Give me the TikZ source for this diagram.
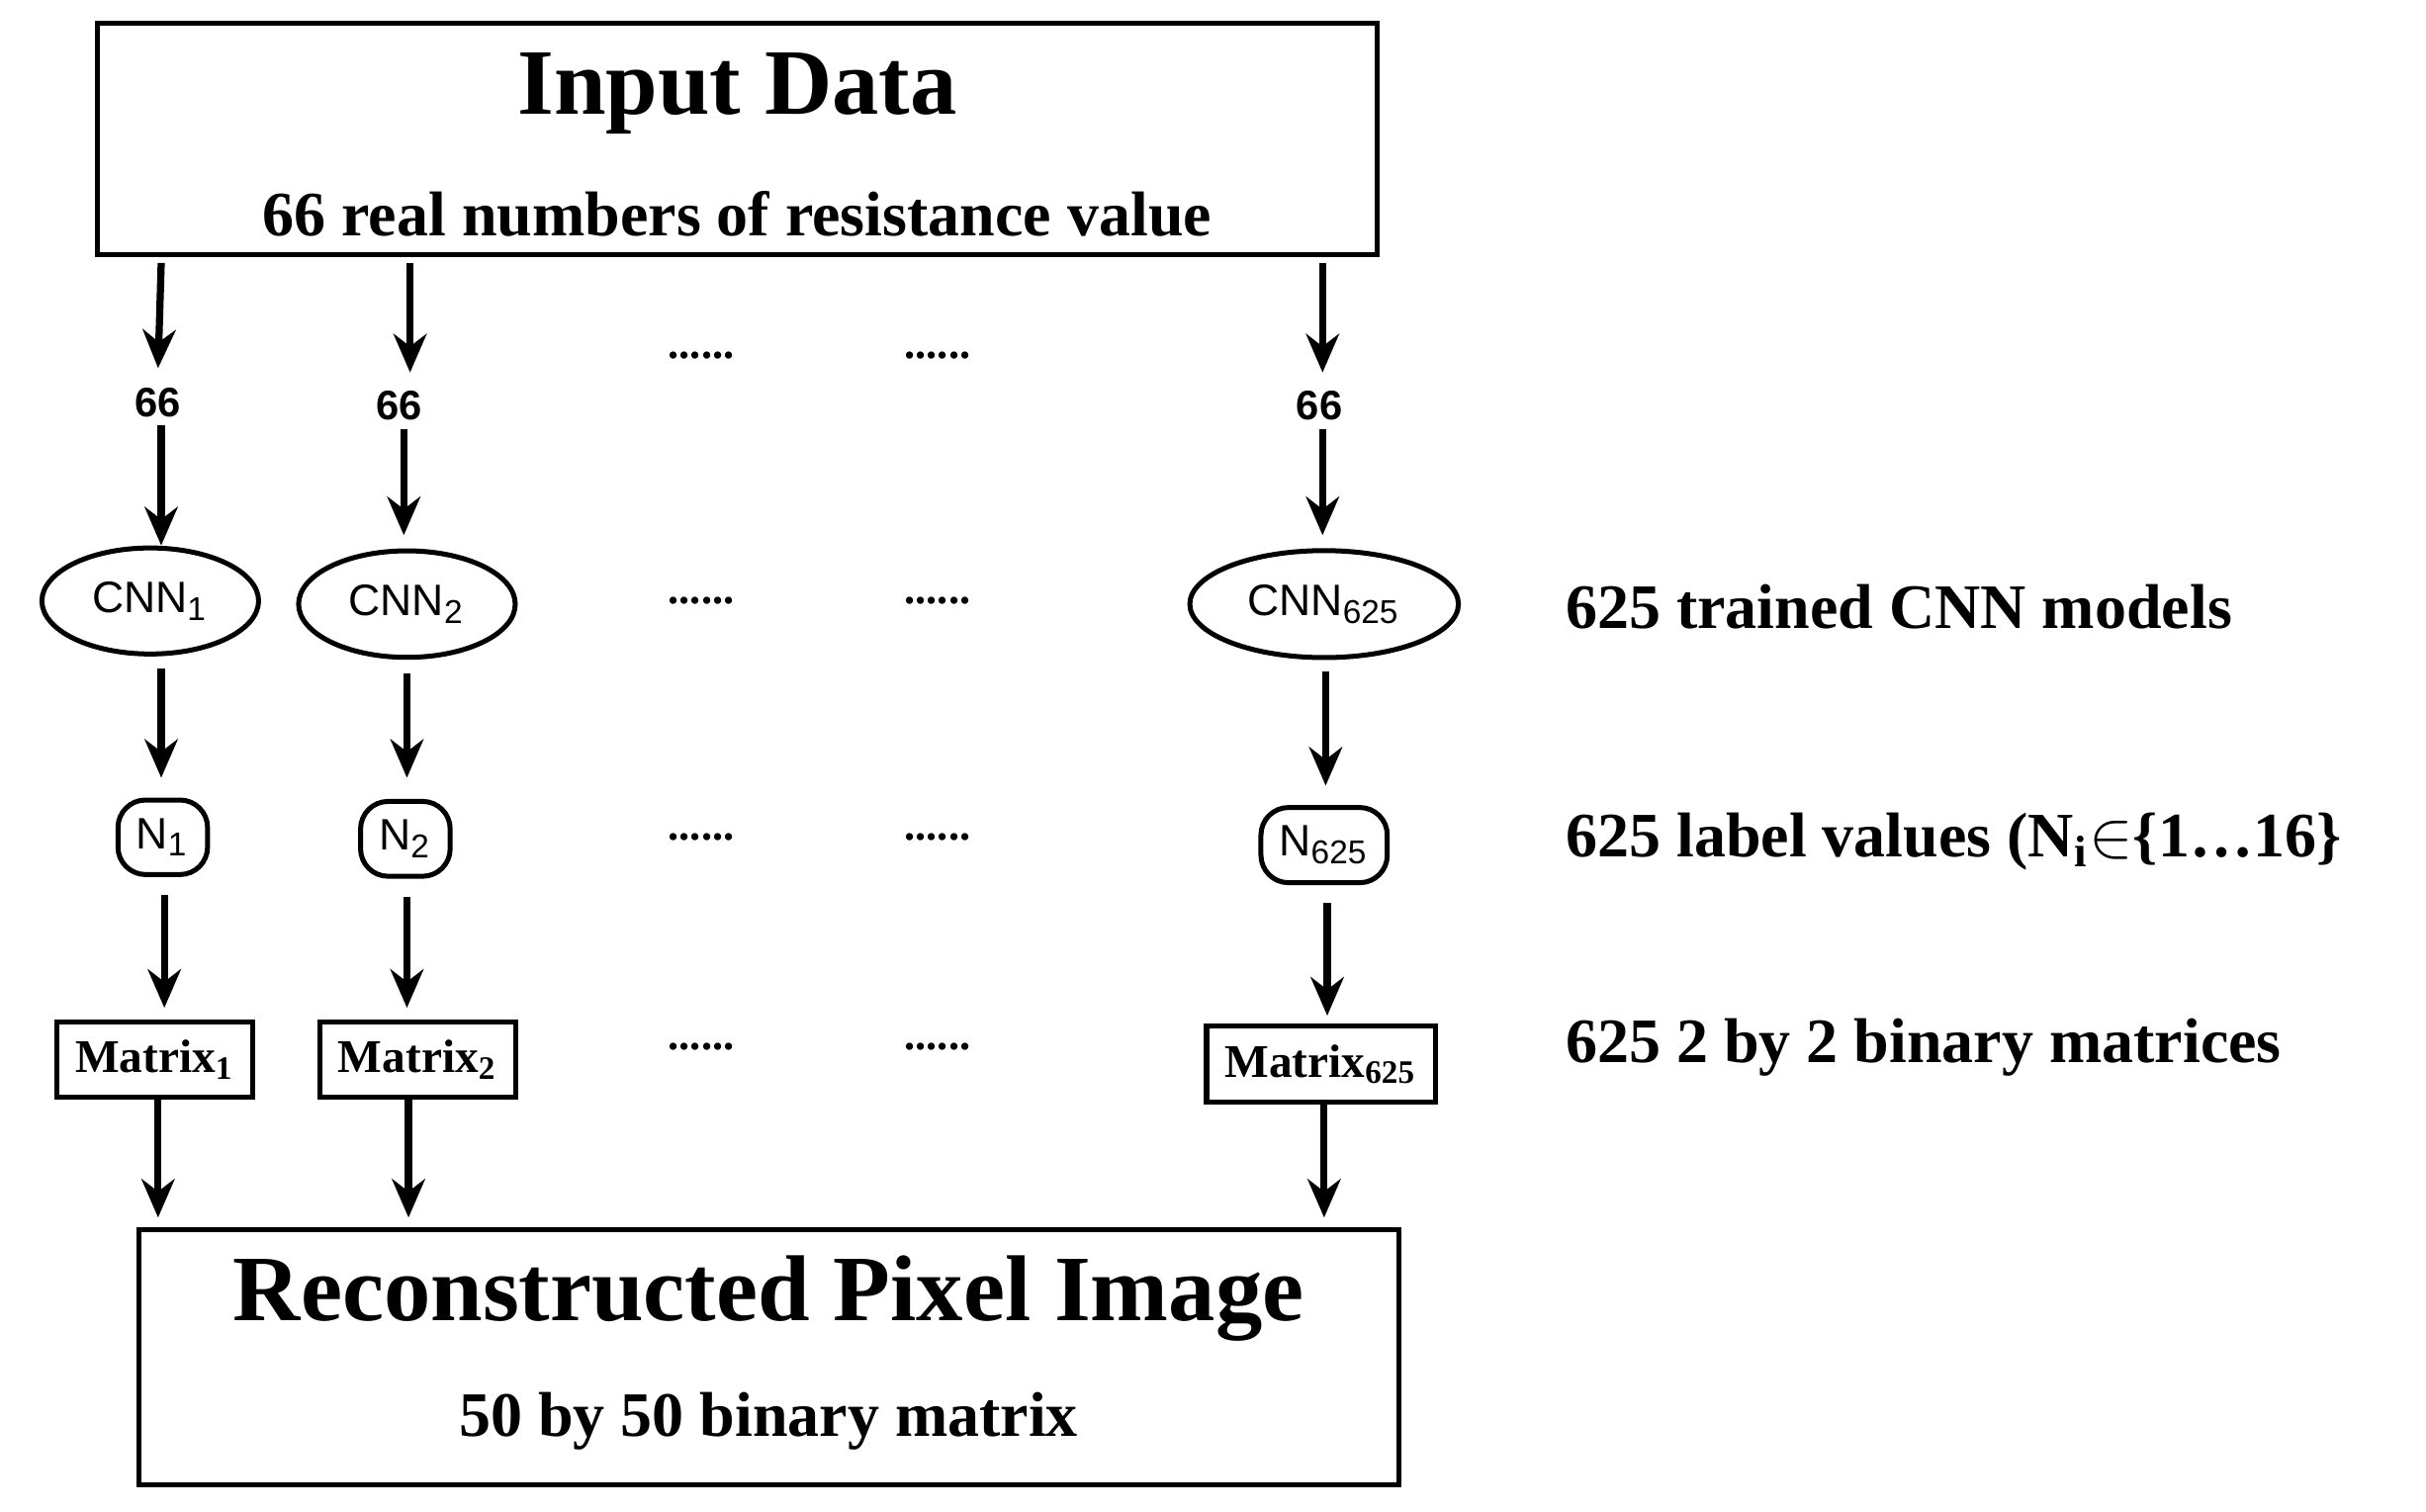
\documentclass[tikz,border=0pt]{standalone}
\usepackage{fontspec}
\setmainfont{Liberation Serif}
\newfontfamily\sans{Liberation Sans}
\usetikzlibrary{arrows.meta,shapes.geometric}
\begin{document}
\begin{tikzpicture}[x=0.01cm,y=-0.01cm,
  arr/.style={line width=1.3pt,-{Stealth[length=7pt,width=6pt]}},
  box/.style={draw,line width=0.9pt,inner sep=0},
  ell/.style={draw,ellipse,line width=0.9pt,minimum width=164\pgflinewidth,inner sep=0},
  sm/.style={font=\sans\bfseries\fontsize{7.5}{9}\selectfont},
  big/.style={font=\bfseries\fontsize{11.5}{13}\selectfont},
  dots/.style={font=\bfseries\fontsize{8}{9}\selectfont}]
\useasboundingbox (0,0) rectangle (1550,966);
% input box
\draw[line width=0.9pt] (62,15) rectangle (880,163);
\node[font=\bfseries\fontsize{17}{19}\selectfont] (t1) at (471,60) {Input Data};
\node[big] (s1) at (471,137) {66 real numbers of resistance value};
% bottom box
\draw[line width=0.9pt] (89,786) rectangle (894,949);
\node[font=\bfseries\fontsize{17}{19}\selectfont] (t2) at (491,830) {Reconstructed Pixel Image};
\node[big] (s2) at (491,908) {50 by 50 binary matrix};
% column coordinates
\coordinate (a1) at (103,168); \coordinate (a2) at (262,168); \coordinate (a3) at (845,168);
\node[sm] (n1) at (101,257) {66};
\node[sm] (n2) at (255,259) {66};
\node[sm] (n3) at (843,259) {66};
\node[draw,ellipse,line width=0.9pt,minimum width=164\dimexpr0.01cm\relax,minimum height=84\dimexpr0.01cm\relax,sm,font=\sans\fontsize{8}{9}\selectfont] (c1) at (96,384) {CNN\textsubscript{1}};
\node[draw,ellipse,line width=0.9pt,minimum width=164\dimexpr0.01cm\relax,minimum height=86\dimexpr0.01cm\relax,font=\sans\fontsize{8}{9}\selectfont] (c2) at (260,386) {CNN\textsubscript{2}};
\node[draw,ellipse,line width=0.9pt,minimum width=164\dimexpr0.01cm\relax,minimum height=86\dimexpr0.01cm\relax,font=\sans\fontsize{8}{9}\selectfont] (c3) at (846,386) {CNN\textsubscript{625}};
\node[draw,rounded corners=5pt,line width=0.9pt,minimum width=98\dimexpr0.01cm\relax,minimum height=73\dimexpr0.01cm\relax,font=\sans\fontsize{8}{9}\selectfont] (m1) at (104,535) {N\textsubscript{1}};
\node[draw,rounded corners=5pt,line width=0.9pt,minimum width=98\dimexpr0.01cm\relax,minimum height=73\dimexpr0.01cm\relax,font=\sans\fontsize{8}{9}\selectfont] (m2) at (259,536) {N\textsubscript{2}};
\node[draw,rounded corners=5pt,line width=0.9pt,minimum width=99\dimexpr0.01cm\relax,minimum height=73\dimexpr0.01cm\relax,font=\sans\fontsize{8}{9}\selectfont] (m3) at (846,540) {N\textsubscript{625}};
\node[draw,line width=0.9pt,minimum width=154\dimexpr0.01cm\relax,minimum height=62\dimexpr0.01cm\relax,font=\bfseries\fontsize{8.5}{10}\selectfont] (x1) at (99,677) {Matrix\textsubscript{1}};
\node[draw,line width=0.9pt,minimum width=148\dimexpr0.01cm\relax,minimum height=62\dimexpr0.01cm\relax,font=\bfseries\fontsize{8.5}{10}\selectfont] (x2) at (267,677) {Matrix\textsubscript{2}};
\node[draw,line width=0.9pt,minimum width=162\dimexpr0.01cm\relax,minimum height=58\dimexpr0.01cm\relax,font=\bfseries\fontsize{8.5}{10}\selectfont] (x3) at (844,680) {Matrix\textsubscript{625}};
\coordinate (b1) at (101,778); \coordinate (b2) at (261,778); \coordinate (b3) at (846,778);
% arrows
\draw[arr] (a1) -- (n1.north);
\draw[arr] (a2) -- (262,238);
\draw[arr] (a3) -- (845,238);
\draw[arr] (103,272) -- (c1.north -| 103,0);
\draw[arr] (258,274) -- (258,342);
\draw[arr] (845,274) -- (845,342);
\draw[arr] (103,427) -- (103,497);
\draw[arr] (260,430) -- (260,497);
\draw[arr] (847,429) -- (847,502);
\draw[arr] (105,572) -- (105,644);
\draw[arr] (260,573) -- (260,644);
\draw[arr] (848,577) -- (848,649);
\draw[arr] (x1.south -| 101,0) -- (b1);
\draw[arr] (x2.south -| 261,0) -- (b2);
\draw[arr] (x3.south -| 846,0) -- (b3);
% dots
\foreach \y/\n in {230/a,387/b,538/c,672/d}{
  \node[dots] (d1\n) at (448,\y-3) {......};
  \node[dots] (d2\n) at (599,\y-3) {......};
}
% right labels
\node[big,anchor=west] (r1) at (988,388) {625 trained CNN models};
\node[big,anchor=west] (r2) at (988,538) {625 label values (N\textsubscript{i}$\in$\{1\dots16\}};
\node[big,anchor=west] (r3) at (988,669) {625 2 by 2 binary matrices};
\end{tikzpicture}
\end{document}
